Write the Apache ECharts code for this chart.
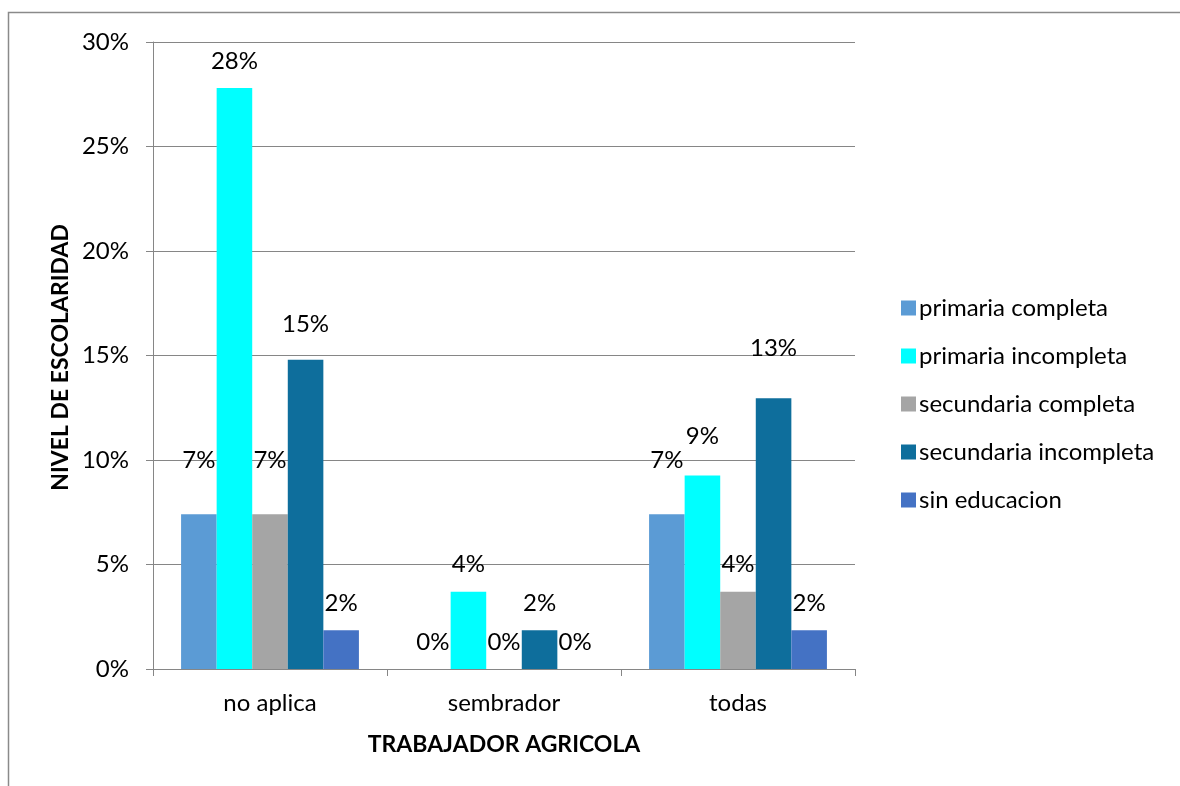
<!DOCTYPE html>
<html>
<head>
<meta charset="utf-8">
<script src="https://cdn.jsdelivr.net/npm/echarts@6/dist/echarts.min.js"></script>
<style>
html,body{margin:0;padding:0;background:#fff;}
#chart{width:1180px;height:786px;}
</style>
</head>
<body>
<div id="chart"></div>
<script>
const categories = ['no aplica', 'sembrador', 'todas'];
const seriesNames = ['primaria completa', 'primaria incompleta', 'secundaria completa', 'secundaria incompleta', 'sin educacion'];
const primariaCompleta = [0.074, 0, 0.074];
const primariaIncompleta = [0.278, 0.037, 0.0926];
const secundariaCompleta = [0.074, 0, 0.037];
const secundariaIncompleta = [0.148, 0.0185, 0.1296];
const sinEducacion = [0.0185, 0, 0.0185];
const yTicks = [0, 0.05, 0.10, 0.15, 0.20, 0.25, 0.30];
const xTitle = 'TRABAJADOR AGRICOLA';
const yTitle = 'NIVEL DE ESCOLARIDAD';
// extra upward nudge of some data labels (as placed in the original)
const labelNudge = [
  [27, 0, 27],
  [0, 0, 12],
  [27, 0, 0],
  [8, 0, 23],
  [0, 0, 0]
];
const colors = ['#5B9BD5', '#00FFFF', '#A5A5A5', '#0E6E9C', '#4472C4'];
const allValues = [primariaCompleta, primariaIncompleta, secundariaCompleta, secundariaIncompleta, sinEducacion];

const FONT = 'Lato, "Open Sans", sans-serif';
const chart = echarts.init(document.getElementById('chart'));
chart.setOption({
  animation: false,
  textStyle: { fontFamily: FONT },
  graphic: [{
    type: 'rect',
    shape: { x: 8.5, y: 12.5, width: 1300, height: 900 },
    style: { fill: 'none', stroke: '#8a8a8a', lineWidth: 1.5 },
    silent: true
  }, {
    type: 'text',
    left: 49,
    top: 224,
    rotation: Math.PI / 2,
    silent: true,
    style: {
      text: yTitle,
      fill: '#000',
      font: 'bold 23px ' + FONT,
      align: 'center',
      verticalAlign: 'middle'
    }
  }],
  grid: { left: 153, right: 325, top: 42, bottom: 117 },
  legend: {
    orient: 'vertical',
    left: 896,
    top: 291,
    itemWidth: 15,
    itemHeight: 15,
    itemGap: 24,
    icon: 'rect',
    textStyle: { fontSize: 24, color: '#000', fontFamily: FONT, padding: [0, 0, 0, -2] },
    data: seriesNames
  },
  xAxis: {
    type: 'category',
    data: categories,
    name: xTitle,
    nameLocation: 'middle',
    nameGap: 64,
    nameTextStyle: { fontSize: 23, fontWeight: 'bold', color: '#000', fontFamily: FONT },
    axisLine: { lineStyle: { color: '#868686', width: 1 } },
    axisTick: { show: true, length: 7, lineStyle: { color: '#868686' }, alignWithLabel: false },
    axisLabel: { fontSize: 24, color: '#000', margin: 22, fontFamily: FONT }
  },
  yAxis: {
    type: 'value',
    min: yTicks[0],
    max: yTicks[yTicks.length - 1],
    interval: yTicks[1] - yTicks[0],
    axisLine: { show: true, lineStyle: { color: '#868686', width: 1 } },
    axisTick: { show: true, length: 7, lineStyle: { color: '#868686' } },
    splitLine: { show: true, lineStyle: { color: '#868686', width: 1 } },
    axisLabel: {
      fontSize: 24, color: '#000', margin: 24, fontFamily: FONT,
      formatter: v => Math.round(v * 100) + '%'
    }
  },
  series: seriesNames.map((name, si) => ({
    name: name,
    type: 'bar',
    barGap: '0%',
    barCategoryGap: '24%',
    itemStyle: { color: colors[si] },
    label: {
      show: true,
      position: 'top',
      distance: 15,
      fontSize: 24,
      color: '#000',
      fontFamily: FONT,
      formatter: p => Math.round(p.value * 100) + '%'
    },
    data: allValues[si].map((v, ci) => ({
      value: v,
      label: { offset: [0, -labelNudge[si][ci]] }
    }))
  }))
});
</script>
</body>
</html>
